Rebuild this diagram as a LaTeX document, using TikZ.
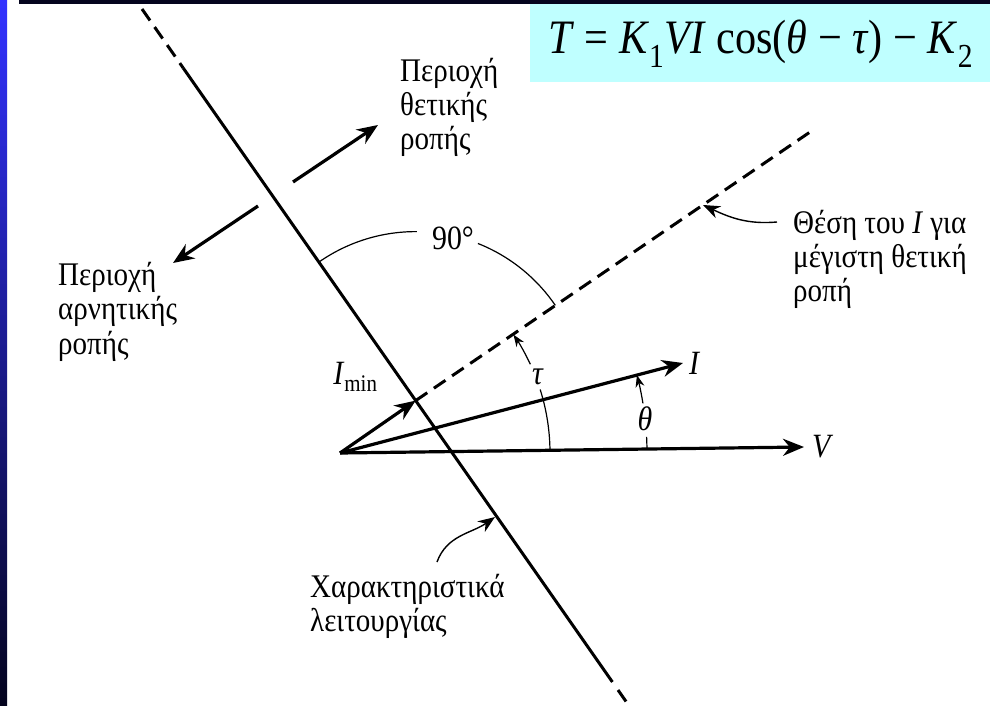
\documentclass[tikz,border=0pt]{standalone}
\usepackage{fontspec}
\setmainfont{Liberation Serif}[FakeStretch=0.88]
\usepackage{xcolor}
\usepackage{tikz}
\usetikzlibrary{arrows.meta,positioning}
\definecolor{formulacyan}{RGB}{191,255,255}
\definecolor{barnavy}{RGB}{4,4,30}
\definecolor{barblue}{RGB}{50,50,255}

\begin{document}
\begin{tikzpicture}[
    x=1pt, y=1pt,
    vec/.style={-{Stealth[length=21pt,width=17pt]}, line width=3.2pt},
    charline/.style={line width=3pt},
    dashline/.style={line width=3pt, dash pattern=on 14pt off 8pt},
    anglearc/.style={line width=1.2pt},
    anglearrow/.style={anglearc, -{Stealth[length=12pt,width=9pt]}},
    pointer/.style={line width=1.4pt, -{Stealth[length=17pt,width=13pt]}},
    lbl/.style={align=left, font=\fontsize{33}{34}\selectfont, inner sep=0pt},
    sym/.style={font=\fontsize{34}{36}\selectfont, inner sep=0pt}
]
% frame
\useasboundingbox (0,0) rectangle (990,705);
\fill[white] (0,0) rectangle (990,705);
\shade[top color=barblue, bottom color=barnavy] (0,0) rectangle (7,705);
\fill[barnavy] (19,701) rectangle (990,705);

% formula
\fill[formulacyan] (530,623) rectangle (990,701);
\node[anchor=base west, inner sep=0pt, font=\fontsize{48}{52}\selectfont] (torque) at (548,651)
    {\textit{T} = \textit{K}\textsubscript{1}\textit{VI} cos(\textit{θ} − \textit{τ}) − \textit{K}\textsubscript{2}};

% points
\coordinate (O) at (340,252);
\coordinate (Vtip) at (804,258);
\coordinate (Itip) at (683,342);
\coordinate (F) at (415.7,304.4);
\coordinate (M) at (813,575);
\coordinate (ctop) at (142,696);
\coordinate (cs1) at (183.2,637);
\coordinate (cs2) at (612.4,23);
\coordinate (cd1) at (618,15);
\coordinate (cbot) at (628.5,0);

% operating characteristic
\draw[dashline] (ctop) -- (cs1);
\draw[charline] (cs1) -- (cs2);
\draw[dashline] (cd1) -- (cbot);

% maximum torque line
\draw[dashline] (F) -- (M);

% torque regions
\coordinate (pos1) at (293,523);
\coordinate (pos2) at (378,580);
\coordinate (neg1) at (258,499);
\coordinate (neg2) at (173,442);
\draw[vec] (pos1) -- (pos2);
\draw[vec] (neg1) -- (neg2);

% phasors
\draw[vec] (O) -- (Vtip);
\draw[vec] (O) -- (Itip);
\draw[vec] (O) -- (F);

% angles
\draw[anglearc] (F) ++(124.9:169) arc[start angle=124.9, end angle=89.6, radius=169];
\draw[anglearc] (F) ++(68.4:169) arc[start angle=68.4, end angle=34.3, radius=169];
\draw[anglearc] (O) ++(0.74:210) arc[start angle=0.74, end angle=17.6, radius=210];
\draw[anglearrow] (O) ++(25:210) arc[start angle=25, end angle=34.3, radius=210];
\draw[anglearc] (O) ++(0.74:307) arc[start angle=0.74, end angle=3, radius=307];
\draw[anglearrow] (O) ++(9.3:307) arc[start angle=9.3, end angle=14.7, radius=307];

\node[sym] (right) at (453,467) {90°};
\node[sym] (tau) at (538,328) {\textit{τ}};
\node[sym] (theta) at (645,286) {\textit{θ}};
\node[sym, right=8pt of Vtip] (Vlabel) {\textit{V}};
\node[sym, right=6pt of Itip] (Ilabel) {\textit{I}};
\node[sym, above left=9pt and 38pt of F] (Iminlabel) {\textit{I}\textsubscript{min}};

% labels
\node[lbl, anchor=base west] (posreg) at (400,555) {Περιοχή\\θετικής\\ροπής};
\node[lbl, anchor=base west] (negreg) at (58,351) {Περιοχή\\αρνητικής\\ροπής};
\node[lbl, anchor=base west] (maxpos) at (793,403) {Θέση του \textit{I} για\\μέγιστη θετική\\ροπή};
\node[lbl, anchor=base west] (chartext) at (310,74) {Χαρακτηριστικά\\λειτουργίας};

% pointers
\coordinate (maxtail) at (777,483);
\coordinate (maxtip) at (703,500);
\coordinate (chartail) at (437,143);
\coordinate (chartip) at (495,188);
\draw[pointer] (maxtail) to[out=185, in=-25] (maxtip);
\draw[pointer] (chartail) to[out=70, in=215] (chartip);
\end{tikzpicture}
\end{document}
